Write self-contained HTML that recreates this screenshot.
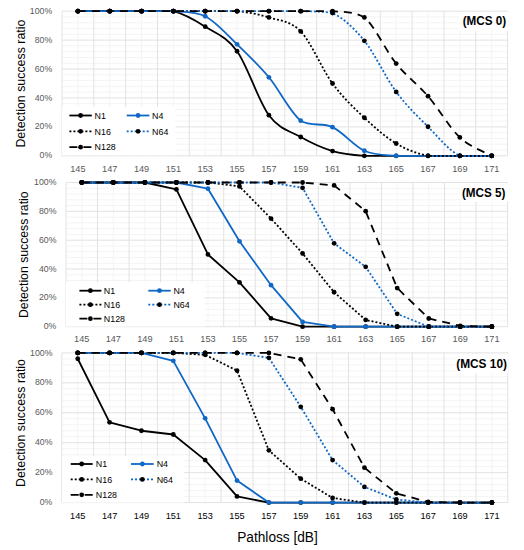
<!DOCTYPE html>
<html><head><meta charset="utf-8"><title>Detection success ratio</title>
<style>html,body{margin:0;padding:0;background:#fff;}body{width:524px;height:550px;overflow:hidden;}svg{display:block;font-family:"Liberation Sans", sans-serif;}</style></head><body>
<svg width="524" height="550" viewBox="0 0 524 550">
<rect width="524" height="550" fill="#fff"/>
<path d="M62 150.02H507.6M62 144.23H507.6M62 138.45H507.6M62 132.66H507.6M62 121.1H507.6M62 115.31H507.6M62 109.53H507.6M62 103.74H507.6M62 92.18H507.6M62 86.39H507.6M62 80.61H507.6M62 74.82H507.6M62 63.26H507.6M62 57.47H507.6M62 51.69H507.6M62 45.9H507.6M62 34.34H507.6M62 28.55H507.6M62 22.77H507.6M62 16.98H507.6M77.91 11.2V155.8M109.74 11.2V155.8M141.57 11.2V155.8M173.4 11.2V155.8M205.23 11.2V155.8M237.06 11.2V155.8M268.89 11.2V155.8M300.71 11.2V155.8M332.54 11.2V155.8M364.37 11.2V155.8M396.2 11.2V155.8M428.03 11.2V155.8M459.86 11.2V155.8M491.69 11.2V155.8" stroke="#f4f4f4" stroke-width="1" fill="none"/>
<path d="M62 155.8H507.6M62 126.88H507.6M62 97.96H507.6M62 69.04H507.6M62 40.12H507.6M62 11.2H507.6M62 11.2V155.8M93.83 11.2V155.8M125.66 11.2V155.8M157.49 11.2V155.8M189.31 11.2V155.8M221.14 11.2V155.8M252.97 11.2V155.8M284.8 11.2V155.8M316.63 11.2V155.8M348.46 11.2V155.8M380.29 11.2V155.8M412.11 11.2V155.8M443.94 11.2V155.8M475.77 11.2V155.8M507.6 11.2V155.8" stroke="#e2e2e2" stroke-width="1" fill="none"/>
<g font-size="9.2" fill="#595959" text-anchor="middle">
<text x="77.91" y="172.4">145</text>
<text x="109.74" y="172.4">147</text>
<text x="141.57" y="172.4">149</text>
<text x="173.4" y="172.4">151</text>
<text x="205.23" y="172.4">153</text>
<text x="237.06" y="172.4">155</text>
<text x="268.89" y="172.4">157</text>
<text x="300.71" y="172.4">159</text>
<text x="332.54" y="172.4">161</text>
<text x="364.37" y="172.4">163</text>
<text x="396.2" y="172.4">165</text>
<text x="428.03" y="172.4">167</text>
<text x="459.86" y="172.4">169</text>
<text x="491.69" y="172.4">171</text>
</g>
<g font-size="9.2" fill="#595959" text-anchor="end">
<text x="52.2" y="158.4" textLength="12.63" lengthAdjust="spacingAndGlyphs">0%</text>
<text x="52.2" y="129.48" textLength="17.49" lengthAdjust="spacingAndGlyphs">20%</text>
<text x="52.2" y="100.56" textLength="17.49" lengthAdjust="spacingAndGlyphs">40%</text>
<text x="52.2" y="71.64" textLength="17.49" lengthAdjust="spacingAndGlyphs">60%</text>
<text x="52.2" y="42.72" textLength="17.49" lengthAdjust="spacingAndGlyphs">80%</text>
<text x="52.2" y="13.8" textLength="22.35" lengthAdjust="spacingAndGlyphs">100%</text>
</g>
<text transform="translate(25.3 83.6) rotate(-90)" text-anchor="middle" font-size="12.6" textLength="128" lengthAdjust="spacingAndGlyphs" fill="#000">Detection success ratio</text>
<rect x="62" y="106.8" width="113.4" height="48.5" fill="#fff"/>
<rect x="459" y="12" width="49" height="19" fill="#fff"/>
<text x="506.2" y="24.7" text-anchor="end" font-size="12.2" font-weight="bold" textLength="43.5" lengthAdjust="spacingAndGlyphs" fill="#000">(MCS 0)</text>
<path d="M77.91 11.2C83.22 11.2 99.13 11.2 109.74 11.2C120.35 11.2 130.96 11.2 141.57 11.2C152.18 11.2 162.79 11.2 173.4 11.2C184.01 13.78 194.62 20 205.23 26.67C215.84 33.35 226.45 36.5 237.06 51.25C247.67 66 258.28 100.88 268.89 115.17C279.5 129.46 290.1 131.03 300.71 137C311.32 142.98 321.93 147.9 332.54 151.03C343.15 154.16 353.76 155 364.37 155.8C374.98 155.8 385.59 155.8 396.2 155.8C406.81 155.8 417.42 155.8 428.03 155.8C438.64 155.8 449.25 155.8 459.86 155.8C470.47 155.8 486.38 155.8 491.69 155.8" fill="none" stroke="#000" stroke-width="1.8" stroke-linejoin="round"/>
<g fill="#000">
<circle cx="77.91" cy="11.2" r="2.4"/>
<circle cx="109.74" cy="11.2" r="2.4"/>
<circle cx="141.57" cy="11.2" r="2.4"/>
<circle cx="173.4" cy="11.2" r="2.4"/>
<circle cx="205.23" cy="26.67" r="2.4"/>
<circle cx="237.06" cy="51.25" r="2.4"/>
<circle cx="268.89" cy="115.17" r="2.4"/>
<circle cx="300.71" cy="137" r="2.4"/>
<circle cx="332.54" cy="151.03" r="2.4"/>
<circle cx="364.37" cy="155.8" r="2.4"/>
<circle cx="396.2" cy="155.8" r="2.4"/>
<circle cx="428.03" cy="155.8" r="2.4"/>
<circle cx="459.86" cy="155.8" r="2.4"/>
<circle cx="491.69" cy="155.8" r="2.4"/>
</g>
<path d="M77.91 11.2C83.22 11.2 99.13 11.2 109.74 11.2C120.35 11.2 130.96 11.2 141.57 11.2C152.18 11.2 162.79 11.2 173.4 11.2C184.01 12.04 194.62 11.2 205.23 16.26C215.84 21.78 226.45 34.14 237.06 44.31C247.67 54.48 258.28 64.56 268.89 77.28C279.5 90.01 290.1 112.35 300.71 120.66C311.32 127.17 321.93 122.16 332.54 127.17C343.15 132.18 353.76 145.97 364.37 150.74C374.98 155.51 385.59 154.96 396.2 155.8C406.81 155.8 417.42 155.8 428.03 155.8C438.64 155.8 449.25 155.8 459.86 155.8C470.47 155.8 486.38 155.8 491.69 155.8" fill="none" stroke="#1068C6" stroke-width="1.8" stroke-linejoin="round"/>
<g fill="#1068C6">
<circle cx="77.91" cy="11.2" r="2.4"/>
<circle cx="109.74" cy="11.2" r="2.4"/>
<circle cx="141.57" cy="11.2" r="2.4"/>
<circle cx="173.4" cy="11.2" r="2.4"/>
<circle cx="205.23" cy="16.26" r="2.4"/>
<circle cx="237.06" cy="44.31" r="2.4"/>
<circle cx="268.89" cy="77.28" r="2.4"/>
<circle cx="300.71" cy="120.66" r="2.4"/>
<circle cx="332.54" cy="127.17" r="2.4"/>
<circle cx="364.37" cy="150.74" r="2.4"/>
<circle cx="396.2" cy="155.8" r="2.4"/>
<circle cx="428.03" cy="155.8" r="2.4"/>
<circle cx="459.86" cy="155.8" r="2.4"/>
<circle cx="491.69" cy="155.8" r="2.4"/>
</g>
<path d="M77.91 11.2C83.22 11.2 99.13 11.2 109.74 11.2C120.35 11.2 130.96 11.2 141.57 11.2C152.18 11.2 162.79 11.2 173.4 11.2C184.01 11.2 194.62 11.2 205.23 11.2C215.84 11.2 226.45 11.2 237.06 11.2C247.67 12.24 258.28 14.04 268.89 17.42C279.5 20.79 290.1 20.43 300.71 31.44C311.32 42.46 321.93 69.11 332.54 83.5C343.15 97.89 353.76 107.77 364.37 117.77C374.98 127.77 385.59 137.17 396.2 143.51C406.81 149.85 417.42 153.75 428.03 155.8C438.64 155.8 449.25 155.8 459.86 155.8C470.47 155.8 486.38 155.8 491.69 155.8" fill="none" stroke="#000" stroke-width="1.8" stroke-linejoin="round" stroke-dasharray="2 2"/>
<g fill="#000">
<circle cx="77.91" cy="11.2" r="2.4"/>
<circle cx="109.74" cy="11.2" r="2.4"/>
<circle cx="141.57" cy="11.2" r="2.4"/>
<circle cx="173.4" cy="11.2" r="2.4"/>
<circle cx="205.23" cy="11.2" r="2.4"/>
<circle cx="237.06" cy="11.2" r="2.4"/>
<circle cx="268.89" cy="17.42" r="2.4"/>
<circle cx="300.71" cy="31.44" r="2.4"/>
<circle cx="332.54" cy="83.5" r="2.4"/>
<circle cx="364.37" cy="117.77" r="2.4"/>
<circle cx="396.2" cy="143.51" r="2.4"/>
<circle cx="428.03" cy="155.8" r="2.4"/>
<circle cx="459.86" cy="155.8" r="2.4"/>
<circle cx="491.69" cy="155.8" r="2.4"/>
</g>
<path d="M77.91 11.2C83.22 11.2 99.13 11.2 109.74 11.2C120.35 11.2 130.96 11.2 141.57 11.2C152.18 11.2 162.79 11.2 173.4 11.2C184.01 11.2 194.62 11.2 205.23 11.2C215.84 11.2 226.45 11.2 237.06 11.2C247.67 11.2 258.28 11.2 268.89 11.2C279.5 11.2 290.1 11.2 300.71 11.2C311.32 11.51 321.93 11.2 332.54 13.08C343.15 18.02 353.76 27.71 364.37 40.84C374.98 53.98 385.59 77.57 396.2 91.89C406.81 106.2 417.42 116.08 428.03 126.74C438.64 137.39 449.25 150.96 459.86 155.8C470.47 155.8 486.38 155.8 491.69 155.8" fill="none" stroke="#1068C6" stroke-width="1.8" stroke-linejoin="round" stroke-dasharray="2 2"/>
<g fill="#000">
<circle cx="77.91" cy="11.2" r="2.4"/>
<circle cx="109.74" cy="11.2" r="2.4"/>
<circle cx="141.57" cy="11.2" r="2.4"/>
<circle cx="173.4" cy="11.2" r="2.4"/>
<circle cx="205.23" cy="11.2" r="2.4"/>
<circle cx="237.06" cy="11.2" r="2.4"/>
<circle cx="268.89" cy="11.2" r="2.4"/>
<circle cx="300.71" cy="11.2" r="2.4"/>
<circle cx="332.54" cy="13.08" r="2.4"/>
<circle cx="364.37" cy="40.84" r="2.4"/>
<circle cx="396.2" cy="91.89" r="2.4"/>
<circle cx="428.03" cy="126.74" r="2.4"/>
<circle cx="459.86" cy="155.8" r="2.4"/>
<circle cx="491.69" cy="155.8" r="2.4"/>
</g>
<path d="M77.91 11.2C83.22 11.2 99.13 11.2 109.74 11.2C120.35 11.2 130.96 11.2 141.57 11.2C152.18 11.2 162.79 11.2 173.4 11.2C184.01 11.2 194.62 11.2 205.23 11.2C215.84 11.2 226.45 11.2 237.06 11.2C247.67 11.2 258.28 11.2 268.89 11.2C279.5 11.2 290.1 11.2 300.71 11.2C311.32 11.2 321.93 11.2 332.54 11.2C343.15 12.24 353.76 11.2 364.37 17.42C374.98 26.14 385.59 50.41 396.2 63.55C406.81 76.68 417.42 83.91 428.03 96.22C438.64 108.54 449.25 127.51 459.86 137.44C470.47 147.37 486.38 152.74 491.69 155.8" fill="none" stroke="#000" stroke-width="1.8" stroke-linejoin="round" stroke-dasharray="8 6"/>
<g fill="#000">
<circle cx="77.91" cy="11.2" r="2.4"/>
<circle cx="109.74" cy="11.2" r="2.4"/>
<circle cx="141.57" cy="11.2" r="2.4"/>
<circle cx="173.4" cy="11.2" r="2.4"/>
<circle cx="205.23" cy="11.2" r="2.4"/>
<circle cx="237.06" cy="11.2" r="2.4"/>
<circle cx="268.89" cy="11.2" r="2.4"/>
<circle cx="300.71" cy="11.2" r="2.4"/>
<circle cx="332.54" cy="11.2" r="2.4"/>
<circle cx="364.37" cy="17.42" r="2.4"/>
<circle cx="396.2" cy="63.55" r="2.4"/>
<circle cx="428.03" cy="96.22" r="2.4"/>
<circle cx="459.86" cy="137.44" r="2.4"/>
<circle cx="491.69" cy="155.8" r="2.4"/>
</g>
<path d="M69.4 115.5H91.8" stroke="#000" stroke-width="1.8"/>
<circle cx="80.6" cy="115.5" r="2.4" fill="#000"/>
<text x="94.6" y="118.7" font-size="8.9" fill="#000">N1</text>
<path d="M126.7 115.5H149.4" stroke="#1068C6" stroke-width="1.8"/>
<circle cx="138.05" cy="115.5" r="2.4" fill="#1068C6"/>
<text x="152.1" y="118.7" font-size="8.9" fill="#000">N4</text>
<path d="M69.4 131.3H91.8" stroke="#000" stroke-width="1.8" stroke-dasharray="2 2"/>
<circle cx="80.6" cy="131.3" r="2.4" fill="#000"/>
<text x="94.6" y="134.5" font-size="8.9" fill="#000">N16</text>
<path d="M126.7 131.3H149.4" stroke="#1068C6" stroke-width="1.8" stroke-dasharray="2 2"/>
<circle cx="138.05" cy="131.3" r="2.4" fill="#000"/>
<text x="152.1" y="134.5" font-size="8.9" fill="#000">N64</text>
<path d="M69.4 147.2H91.8" stroke="#000" stroke-width="1.8" stroke-dasharray="8 6"/>
<circle cx="80.6" cy="147.2" r="2.4" fill="#000"/>
<text x="94.6" y="150.4" font-size="8.9" fill="#000">N128</text>
<path d="M66 320.93H507.6M66 315.16H507.6M66 309.4H507.6M66 303.63H507.6M66 292.09H507.6M66 286.32H507.6M66 280.56H507.6M66 274.79H507.6M66 263.25H507.6M66 257.48H507.6M66 251.72H507.6M66 245.95H507.6M66 234.41H507.6M66 228.64H507.6M66 222.88H507.6M66 217.11H507.6M66 205.57H507.6M66 199.8H507.6M66 194.04H507.6M66 188.27H507.6M81.77 182.5V326.7M113.31 182.5V326.7M144.86 182.5V326.7M176.4 182.5V326.7M207.94 182.5V326.7M239.49 182.5V326.7M271.03 182.5V326.7M302.57 182.5V326.7M334.11 182.5V326.7M365.66 182.5V326.7M397.2 182.5V326.7M428.74 182.5V326.7M460.29 182.5V326.7M491.83 182.5V326.7" stroke="#f4f4f4" stroke-width="1" fill="none"/>
<path d="M66 326.7H507.6M66 297.86H507.6M66 269.02H507.6M66 240.18H507.6M66 211.34H507.6M66 182.5H507.6M66 182.5V326.7M97.54 182.5V326.7M129.09 182.5V326.7M160.63 182.5V326.7M192.17 182.5V326.7M223.71 182.5V326.7M255.26 182.5V326.7M286.8 182.5V326.7M318.34 182.5V326.7M349.89 182.5V326.7M381.43 182.5V326.7M412.97 182.5V326.7M444.51 182.5V326.7M476.06 182.5V326.7M507.6 182.5V326.7" stroke="#e2e2e2" stroke-width="1" fill="none"/>
<g font-size="9.2" fill="#595959" text-anchor="middle">
<text x="81.77" y="342.4">145</text>
<text x="113.31" y="342.4">147</text>
<text x="144.86" y="342.4">149</text>
<text x="176.4" y="342.4">151</text>
<text x="207.94" y="342.4">153</text>
<text x="239.49" y="342.4">155</text>
<text x="271.03" y="342.4">157</text>
<text x="302.57" y="342.4">159</text>
<text x="334.11" y="342.4">161</text>
<text x="365.66" y="342.4">163</text>
<text x="397.2" y="342.4">165</text>
<text x="428.74" y="342.4">167</text>
<text x="460.29" y="342.4">169</text>
<text x="491.83" y="342.4">171</text>
</g>
<g font-size="9.2" fill="#595959" text-anchor="end">
<text x="56.4" y="329.3" textLength="12.63" lengthAdjust="spacingAndGlyphs">0%</text>
<text x="56.4" y="300.46" textLength="17.49" lengthAdjust="spacingAndGlyphs">20%</text>
<text x="56.4" y="271.62" textLength="17.49" lengthAdjust="spacingAndGlyphs">40%</text>
<text x="56.4" y="242.78" textLength="17.49" lengthAdjust="spacingAndGlyphs">60%</text>
<text x="56.4" y="213.94" textLength="17.49" lengthAdjust="spacingAndGlyphs">80%</text>
<text x="56.4" y="185.1" textLength="22.35" lengthAdjust="spacingAndGlyphs">100%</text>
</g>
<text transform="translate(27.8 254.7) rotate(-90)" text-anchor="middle" font-size="12.6" textLength="126.6" lengthAdjust="spacingAndGlyphs" fill="#000">Detection success ratio</text>
<rect x="66" y="282.5" width="138" height="44" fill="#fff"/>
<rect x="459.7" y="183.5" width="48.3" height="18.3" fill="#fff"/>
<text x="505.4" y="196.5" text-anchor="end" font-size="12.2" font-weight="bold" textLength="43.5" lengthAdjust="spacingAndGlyphs" fill="#000">(MCS 5)</text>
<path d="M81.77 182.5L113.31 182.5L144.86 182.5L176.4 189.42L207.94 254.46L239.49 282.43L271.03 318.34L302.57 326.7L334.11 326.7L365.66 326.7L397.2 326.7L428.74 326.7L460.29 326.7L491.83 326.7" fill="none" stroke="#000" stroke-width="1.8" stroke-linejoin="round"/>
<g fill="#000">
<circle cx="81.77" cy="182.5" r="2.4"/>
<circle cx="113.31" cy="182.5" r="2.4"/>
<circle cx="144.86" cy="182.5" r="2.4"/>
<circle cx="176.4" cy="189.42" r="2.4"/>
<circle cx="207.94" cy="254.46" r="2.4"/>
<circle cx="239.49" cy="282.43" r="2.4"/>
<circle cx="271.03" cy="318.34" r="2.4"/>
<circle cx="302.57" cy="326.7" r="2.4"/>
<circle cx="334.11" cy="326.7" r="2.4"/>
<circle cx="365.66" cy="326.7" r="2.4"/>
<circle cx="397.2" cy="326.7" r="2.4"/>
<circle cx="428.74" cy="326.7" r="2.4"/>
<circle cx="460.29" cy="326.7" r="2.4"/>
<circle cx="491.83" cy="326.7" r="2.4"/>
</g>
<path d="M81.77 182.5L113.31 182.5L144.86 182.5L176.4 182.5L207.94 188.7L239.49 241.33L271.03 285.17L302.57 321.94L334.11 326.7L365.66 326.7L397.2 326.7L428.74 326.7L460.29 326.7L491.83 326.7" fill="none" stroke="#1068C6" stroke-width="1.8" stroke-linejoin="round"/>
<g fill="#1068C6">
<circle cx="81.77" cy="182.5" r="2.4"/>
<circle cx="113.31" cy="182.5" r="2.4"/>
<circle cx="144.86" cy="182.5" r="2.4"/>
<circle cx="176.4" cy="182.5" r="2.4"/>
<circle cx="207.94" cy="188.7" r="2.4"/>
<circle cx="239.49" cy="241.33" r="2.4"/>
<circle cx="271.03" cy="285.17" r="2.4"/>
<circle cx="302.57" cy="321.94" r="2.4"/>
<circle cx="334.11" cy="326.7" r="2.4"/>
<circle cx="365.66" cy="326.7" r="2.4"/>
<circle cx="397.2" cy="326.7" r="2.4"/>
<circle cx="428.74" cy="326.7" r="2.4"/>
<circle cx="460.29" cy="326.7" r="2.4"/>
<circle cx="491.83" cy="326.7" r="2.4"/>
</g>
<path d="M81.77 182.5L113.31 182.5L144.86 182.5L176.4 182.5L207.94 182.5L239.49 186.39L271.03 218.55L302.57 253.45L334.11 292.24L365.66 319.92L397.2 326.7L428.74 326.7L460.29 326.7L491.83 326.7" fill="none" stroke="#000" stroke-width="1.8" stroke-linejoin="round" stroke-dasharray="2 2"/>
<g fill="#000">
<circle cx="81.77" cy="182.5" r="2.4"/>
<circle cx="113.31" cy="182.5" r="2.4"/>
<circle cx="144.86" cy="182.5" r="2.4"/>
<circle cx="176.4" cy="182.5" r="2.4"/>
<circle cx="207.94" cy="182.5" r="2.4"/>
<circle cx="239.49" cy="186.39" r="2.4"/>
<circle cx="271.03" cy="218.55" r="2.4"/>
<circle cx="302.57" cy="253.45" r="2.4"/>
<circle cx="334.11" cy="292.24" r="2.4"/>
<circle cx="365.66" cy="319.92" r="2.4"/>
<circle cx="397.2" cy="326.7" r="2.4"/>
<circle cx="428.74" cy="326.7" r="2.4"/>
<circle cx="460.29" cy="326.7" r="2.4"/>
<circle cx="491.83" cy="326.7" r="2.4"/>
</g>
<path d="M81.77 182.5L113.31 182.5L144.86 182.5L176.4 182.5L207.94 182.5L239.49 182.5L271.03 182.5L302.57 187.84L334.11 243.35L365.66 266.86L397.2 313.87L428.74 326.7L460.29 326.7L491.83 326.7" fill="none" stroke="#1068C6" stroke-width="1.8" stroke-linejoin="round" stroke-dasharray="2 2"/>
<g fill="#000">
<circle cx="81.77" cy="182.5" r="2.4"/>
<circle cx="113.31" cy="182.5" r="2.4"/>
<circle cx="144.86" cy="182.5" r="2.4"/>
<circle cx="176.4" cy="182.5" r="2.4"/>
<circle cx="207.94" cy="182.5" r="2.4"/>
<circle cx="239.49" cy="182.5" r="2.4"/>
<circle cx="271.03" cy="182.5" r="2.4"/>
<circle cx="302.57" cy="187.84" r="2.4"/>
<circle cx="334.11" cy="243.35" r="2.4"/>
<circle cx="365.66" cy="266.86" r="2.4"/>
<circle cx="397.2" cy="313.87" r="2.4"/>
<circle cx="428.74" cy="326.7" r="2.4"/>
<circle cx="460.29" cy="326.7" r="2.4"/>
<circle cx="491.83" cy="326.7" r="2.4"/>
</g>
<path d="M81.77 182.5L113.31 182.5L144.86 182.5L176.4 182.5L207.94 182.5L239.49 182.5L271.03 182.5L302.57 182.5L334.11 185.38L365.66 211.2L397.2 288.05L428.74 318.48L460.29 325.83L491.83 326.7" fill="none" stroke="#000" stroke-width="1.8" stroke-linejoin="round" stroke-dasharray="8 6"/>
<g fill="#000">
<circle cx="81.77" cy="182.5" r="2.4"/>
<circle cx="113.31" cy="182.5" r="2.4"/>
<circle cx="144.86" cy="182.5" r="2.4"/>
<circle cx="176.4" cy="182.5" r="2.4"/>
<circle cx="207.94" cy="182.5" r="2.4"/>
<circle cx="239.49" cy="182.5" r="2.4"/>
<circle cx="271.03" cy="182.5" r="2.4"/>
<circle cx="302.57" cy="182.5" r="2.4"/>
<circle cx="334.11" cy="185.38" r="2.4"/>
<circle cx="365.66" cy="211.2" r="2.4"/>
<circle cx="397.2" cy="288.05" r="2.4"/>
<circle cx="428.74" cy="318.48" r="2.4"/>
<circle cx="460.29" cy="325.83" r="2.4"/>
<circle cx="491.83" cy="326.7" r="2.4"/>
</g>
<path d="M79.4 290.7H101.4" stroke="#000" stroke-width="1.8"/>
<circle cx="90.4" cy="290.7" r="2.4" fill="#000"/>
<text x="103.8" y="293.9" font-size="8.9" fill="#000">N1</text>
<path d="M148.3 290.7H170.7" stroke="#1068C6" stroke-width="1.8"/>
<circle cx="159.5" cy="290.7" r="2.4" fill="#1068C6"/>
<text x="173.4" y="293.9" font-size="8.9" fill="#000">N4</text>
<path d="M79.4 304.7H101.4" stroke="#000" stroke-width="1.8" stroke-dasharray="2 2"/>
<circle cx="90.4" cy="304.7" r="2.4" fill="#000"/>
<text x="103.8" y="307.9" font-size="8.9" fill="#000">N16</text>
<path d="M148.3 304.7H170.7" stroke="#1068C6" stroke-width="1.8" stroke-dasharray="2 2"/>
<circle cx="159.5" cy="304.7" r="2.4" fill="#000"/>
<text x="173.4" y="307.9" font-size="8.9" fill="#000">N64</text>
<path d="M79.4 318.7H101.4" stroke="#000" stroke-width="1.8" stroke-dasharray="8 6"/>
<circle cx="90.4" cy="318.7" r="2.4" fill="#000"/>
<text x="103.8" y="321.9" font-size="8.9" fill="#000">N128</text>
<path d="M61.8 496.61H507.8M61.8 490.62H507.8M61.8 484.64H507.8M61.8 478.65H507.8M61.8 466.67H507.8M61.8 460.68H507.8M61.8 454.7H507.8M61.8 448.71H507.8M61.8 436.73H507.8M61.8 430.74H507.8M61.8 424.76H507.8M61.8 418.77H507.8M61.8 406.79H507.8M61.8 400.8H507.8M61.8 394.82H507.8M61.8 388.83H507.8M61.8 376.85H507.8M61.8 370.86H507.8M61.8 364.88H507.8M61.8 358.89H507.8M77.73 352.9V502.6M109.59 352.9V502.6M141.44 352.9V502.6M173.3 352.9V502.6M205.16 352.9V502.6M237.01 352.9V502.6M268.87 352.9V502.6M300.73 352.9V502.6M332.59 352.9V502.6M364.44 352.9V502.6M396.3 352.9V502.6M428.16 352.9V502.6M460.01 352.9V502.6M491.87 352.9V502.6" stroke="#f4f4f4" stroke-width="1" fill="none"/>
<path d="M61.8 502.6H507.8M61.8 472.66H507.8M61.8 442.72H507.8M61.8 412.78H507.8M61.8 382.84H507.8M61.8 352.9H507.8M61.8 352.9V502.6M93.66 352.9V502.6M125.51 352.9V502.6M157.37 352.9V502.6M189.23 352.9V502.6M221.09 352.9V502.6M252.94 352.9V502.6M284.8 352.9V502.6M316.66 352.9V502.6M348.51 352.9V502.6M380.37 352.9V502.6M412.23 352.9V502.6M444.09 352.9V502.6M475.94 352.9V502.6M507.8 352.9V502.6" stroke="#e2e2e2" stroke-width="1" fill="none"/>
<g font-size="9.2" fill="#000000" text-anchor="middle">
<text x="77.73" y="518.5">145</text>
<text x="109.59" y="518.5">147</text>
<text x="141.44" y="518.5">149</text>
<text x="173.3" y="518.5">151</text>
<text x="205.16" y="518.5">153</text>
<text x="237.01" y="518.5">155</text>
<text x="268.87" y="518.5">157</text>
<text x="300.73" y="518.5">159</text>
<text x="332.59" y="518.5">161</text>
<text x="364.44" y="518.5">163</text>
<text x="396.3" y="518.5">165</text>
<text x="428.16" y="518.5">167</text>
<text x="460.01" y="518.5">169</text>
<text x="491.87" y="518.5">171</text>
</g>
<g font-size="9.2" fill="#595959" text-anchor="end">
<text x="52.4" y="505.2" textLength="12.63" lengthAdjust="spacingAndGlyphs">0%</text>
<text x="52.4" y="475.26" textLength="17.49" lengthAdjust="spacingAndGlyphs">20%</text>
<text x="52.4" y="445.32" textLength="17.49" lengthAdjust="spacingAndGlyphs">40%</text>
<text x="52.4" y="415.38" textLength="17.49" lengthAdjust="spacingAndGlyphs">60%</text>
<text x="52.4" y="385.44" textLength="17.49" lengthAdjust="spacingAndGlyphs">80%</text>
<text x="52.4" y="355.5" textLength="22.35" lengthAdjust="spacingAndGlyphs">100%</text>
</g>
<text transform="translate(25.3 423) rotate(-90)" text-anchor="middle" font-size="12.6" textLength="128" lengthAdjust="spacingAndGlyphs" fill="#000">Detection success ratio</text>
<rect x="62" y="456" width="122" height="46.6" fill="#fff"/>
<rect x="455.7" y="354" width="52.3" height="18.8" fill="#fff"/>
<text x="507" y="368.3" text-anchor="end" font-size="12.2" font-weight="bold" textLength="50.8" lengthAdjust="spacingAndGlyphs" fill="#000">(MCS 10)</text>
<path d="M77.73 358.74L109.59 422.36L141.44 430.74L173.3 434.49L205.16 460.09L237.01 496.46L268.87 502.6L300.73 502.6L332.59 502.6L364.44 502.6L396.3 502.6L428.16 502.6L460.01 502.6L491.87 502.6" fill="none" stroke="#000" stroke-width="1.8" stroke-linejoin="round"/>
<g fill="#000">
<circle cx="77.73" cy="358.74" r="2.4"/>
<circle cx="109.59" cy="422.36" r="2.4"/>
<circle cx="141.44" cy="430.74" r="2.4"/>
<circle cx="173.3" cy="434.49" r="2.4"/>
<circle cx="205.16" cy="460.09" r="2.4"/>
<circle cx="237.01" cy="496.46" r="2.4"/>
<circle cx="268.87" cy="502.6" r="2.4"/>
<circle cx="300.73" cy="502.6" r="2.4"/>
<circle cx="332.59" cy="502.6" r="2.4"/>
<circle cx="364.44" cy="502.6" r="2.4"/>
<circle cx="396.3" cy="502.6" r="2.4"/>
<circle cx="428.16" cy="502.6" r="2.4"/>
<circle cx="460.01" cy="502.6" r="2.4"/>
<circle cx="491.87" cy="502.6" r="2.4"/>
</g>
<path d="M77.73 352.9L109.59 352.9L141.44 352.9L173.3 360.83L205.16 418.32L237.01 480.59L268.87 502.6L300.73 502.6L332.59 502.6L364.44 502.6L396.3 502.6L428.16 502.6L460.01 502.6L491.87 502.6" fill="none" stroke="#1068C6" stroke-width="1.8" stroke-linejoin="round"/>
<g fill="#1068C6">
<circle cx="77.73" cy="352.9" r="2.4"/>
<circle cx="109.59" cy="352.9" r="2.4"/>
<circle cx="141.44" cy="352.9" r="2.4"/>
<circle cx="173.3" cy="360.83" r="2.4"/>
<circle cx="205.16" cy="418.32" r="2.4"/>
<circle cx="237.01" cy="480.59" r="2.4"/>
<circle cx="268.87" cy="502.6" r="2.4"/>
<circle cx="300.73" cy="502.6" r="2.4"/>
<circle cx="332.59" cy="502.6" r="2.4"/>
<circle cx="364.44" cy="502.6" r="2.4"/>
<circle cx="396.3" cy="502.6" r="2.4"/>
<circle cx="428.16" cy="502.6" r="2.4"/>
<circle cx="460.01" cy="502.6" r="2.4"/>
<circle cx="491.87" cy="502.6" r="2.4"/>
</g>
<path d="M77.73 352.9L109.59 352.9L141.44 352.9L173.3 352.9L205.16 354.85L237.01 370.56L268.87 450.35L300.73 478.65L332.59 497.96L364.44 502.6L396.3 502.6L428.16 502.6L460.01 502.6L491.87 502.6" fill="none" stroke="#000" stroke-width="1.8" stroke-linejoin="round" stroke-dasharray="2 2"/>
<g fill="#000">
<circle cx="77.73" cy="352.9" r="2.4"/>
<circle cx="109.59" cy="352.9" r="2.4"/>
<circle cx="141.44" cy="352.9" r="2.4"/>
<circle cx="173.3" cy="352.9" r="2.4"/>
<circle cx="205.16" cy="354.85" r="2.4"/>
<circle cx="237.01" cy="370.56" r="2.4"/>
<circle cx="268.87" cy="450.35" r="2.4"/>
<circle cx="300.73" cy="478.65" r="2.4"/>
<circle cx="332.59" cy="497.96" r="2.4"/>
<circle cx="364.44" cy="502.6" r="2.4"/>
<circle cx="396.3" cy="502.6" r="2.4"/>
<circle cx="428.16" cy="502.6" r="2.4"/>
<circle cx="460.01" cy="502.6" r="2.4"/>
<circle cx="491.87" cy="502.6" r="2.4"/>
</g>
<path d="M77.73 352.9L109.59 352.9L141.44 352.9L173.3 352.9L205.16 352.9L237.01 352.9L268.87 357.84L300.73 406.79L332.59 460.09L364.44 486.88L396.3 499.46L428.16 502.6L460.01 502.6L491.87 502.6" fill="none" stroke="#1068C6" stroke-width="1.8" stroke-linejoin="round" stroke-dasharray="2 2"/>
<g fill="#000">
<circle cx="77.73" cy="352.9" r="2.4"/>
<circle cx="109.59" cy="352.9" r="2.4"/>
<circle cx="141.44" cy="352.9" r="2.4"/>
<circle cx="173.3" cy="352.9" r="2.4"/>
<circle cx="205.16" cy="352.9" r="2.4"/>
<circle cx="237.01" cy="352.9" r="2.4"/>
<circle cx="268.87" cy="357.84" r="2.4"/>
<circle cx="300.73" cy="406.79" r="2.4"/>
<circle cx="332.59" cy="460.09" r="2.4"/>
<circle cx="364.44" cy="486.88" r="2.4"/>
<circle cx="396.3" cy="499.46" r="2.4"/>
<circle cx="428.16" cy="502.6" r="2.4"/>
<circle cx="460.01" cy="502.6" r="2.4"/>
<circle cx="491.87" cy="502.6" r="2.4"/>
</g>
<path d="M77.73 352.9L109.59 352.9L141.44 352.9L173.3 352.9L205.16 352.9L237.01 352.9L268.87 352.9L300.73 359.34L332.59 409.19L364.44 467.72L396.3 493.32L428.16 502L460.01 502.6L491.87 502.6" fill="none" stroke="#000" stroke-width="1.8" stroke-linejoin="round" stroke-dasharray="8 6"/>
<g fill="#000">
<circle cx="77.73" cy="352.9" r="2.4"/>
<circle cx="109.59" cy="352.9" r="2.4"/>
<circle cx="141.44" cy="352.9" r="2.4"/>
<circle cx="173.3" cy="352.9" r="2.4"/>
<circle cx="205.16" cy="352.9" r="2.4"/>
<circle cx="237.01" cy="352.9" r="2.4"/>
<circle cx="268.87" cy="352.9" r="2.4"/>
<circle cx="300.73" cy="359.34" r="2.4"/>
<circle cx="332.59" cy="409.19" r="2.4"/>
<circle cx="364.44" cy="467.72" r="2.4"/>
<circle cx="396.3" cy="493.32" r="2.4"/>
<circle cx="428.16" cy="502" r="2.4"/>
<circle cx="460.01" cy="502.6" r="2.4"/>
<circle cx="491.87" cy="502.6" r="2.4"/>
</g>
<path d="M70.7 464H92.7" stroke="#000" stroke-width="1.8"/>
<circle cx="81.7" cy="464" r="2.4" fill="#000"/>
<text x="95.8" y="467.2" font-size="8.9" fill="#000">N1</text>
<path d="M131 464H153.7" stroke="#1068C6" stroke-width="1.8"/>
<circle cx="142.35" cy="464" r="2.4" fill="#1068C6"/>
<text x="156.7" y="467.2" font-size="8.9" fill="#000">N4</text>
<path d="M70.7 479.4H92.7" stroke="#000" stroke-width="1.8" stroke-dasharray="2 2"/>
<circle cx="81.7" cy="479.4" r="2.4" fill="#000"/>
<text x="95.8" y="482.6" font-size="8.9" fill="#000">N16</text>
<path d="M131 479.4H153.7" stroke="#1068C6" stroke-width="1.8" stroke-dasharray="2 2"/>
<circle cx="142.35" cy="479.4" r="2.4" fill="#000"/>
<text x="156.7" y="482.6" font-size="8.9" fill="#000">N64</text>
<path d="M70.7 494.8H92.7" stroke="#000" stroke-width="1.8" stroke-dasharray="8 6"/>
<circle cx="81.7" cy="494.8" r="2.4" fill="#000"/>
<text x="95.8" y="498" font-size="8.9" fill="#000">N128</text>
<text x="277.5" y="541.7" text-anchor="middle" font-size="14" textLength="80.5" lengthAdjust="spacingAndGlyphs" fill="#000">Pathloss [dB]</text>
</svg></body></html>
